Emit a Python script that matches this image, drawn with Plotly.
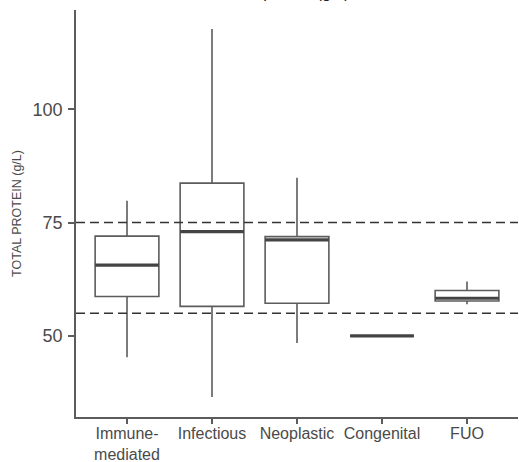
import plotly.graph_objects as go

# Total protein by diagnostic group (g/L), summary statistics per group
categories = ["Immune-<br>mediated", "Infectious", "Neoplastic", "Congenital", "FUO"]
lower_whisker = [45.3, 36.5, 48.4, 50.0, 57.0]
q1 = [58.7, 56.5, 57.2, 50.0, 57.7]
median = [65.6, 73.0, 71.2, 50.0, 58.3]
q3 = [72.0, 83.7, 71.9, 50.0, 60.0]
upper_whisker = [79.8, 117.7, 84.9, 50.0, 62.0]

# Reference interval limits
reference_limits = [55, 75]

y_ticks = [50, 75, 100]

LINE = "#5c5c5c"
TEXT = "#4a4a4a"
FONT = "Liberation Sans, Arial, sans-serif"
BOX_WIDTH = 0.75

fig = go.Figure()
fig.add_trace(go.Box(
    x=categories,
    q1=q1,
    median=median,
    q3=q3,
    lowerfence=lower_whisker,
    upperfence=upper_whisker,
    boxpoints=False,
    width=BOX_WIDTH,
    whiskerwidth=0,
    fillcolor="white",
    line=dict(color=LINE, width=1.6),
    showlegend=False,
    hoverinfo="skip",
))

# Thicker median bars
for i, m in enumerate(median):
    fig.add_shape(type="line", xref="x", yref="y",
                  x0=i - BOX_WIDTH / 2, x1=i + BOX_WIDTH / 2, y0=m, y1=m,
                  line=dict(color="#444444", width=3.2), layer="above")

# Dashed reference limits across the panel
for v in reference_limits:
    fig.add_shape(type="line", xref="paper", yref="y",
                  x0=0, x1=1, y0=v, y1=v,
                  line=dict(color="#333333", width=1.5, dash="9px,5px"),
                  layer="above")

fig.add_annotation(
    text="Total protein (g/L)", xref="paper", yref="paper",
    x=0.624, y=1, xanchor="right", yanchor="bottom", yshift=7,
    showarrow=False, font=dict(family=FONT, size=16, color="#222222"),
)

fig.update_layout(
    width=519, height=462,
    margin=dict(l=76, r=1, t=10, b=45),
    paper_bgcolor="white", plot_bgcolor="white",
    font=dict(family=FONT, color=TEXT),
    xaxis=dict(
        type="category", range=[-0.6, 4.6], automargin=False,
        showline=True, linecolor=LINE, linewidth=1.8,
        ticks="outside", ticklen=5, tickwidth=1.5, tickcolor=LINE,
        tickfont=dict(size=16, color=TEXT),
        ticklabelstandoff=-4,
        showgrid=False, zeroline=False, fixedrange=True,
    ),
    yaxis=dict(
        range=[32.1, 121.9], automargin=False,
        tickvals=y_ticks, ticktext=[str(t) for t in y_ticks],
        showline=True, linecolor=LINE, linewidth=1.8,
        ticks="outside", ticklen=6, tickwidth=1.5, tickcolor=LINE,
        tickfont=dict(size=18, color=TEXT),
        ticklabelstandoff=2,
        showgrid=False, zeroline=False,
        title=dict(text="TOTAL PROTEIN (g/L)", font=dict(size=12.5, color=TEXT), standoff=8),
    ),
)

fig.write_html("out.html")
